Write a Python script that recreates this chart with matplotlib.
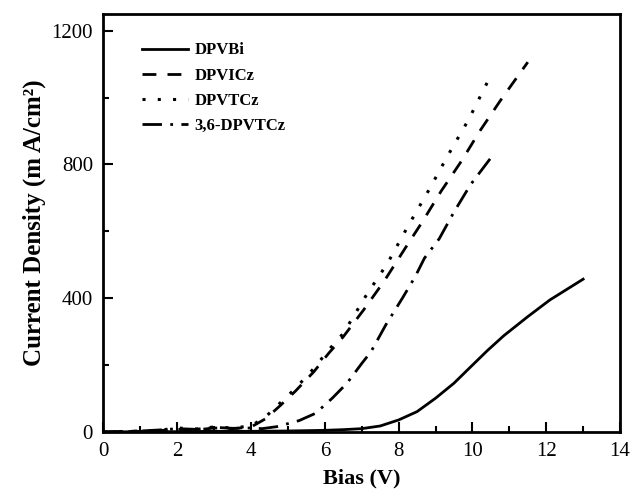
import numpy as np
import matplotlib.pyplot as plt
from matplotlib.ticker import MultipleLocator

# DPVBi (solid)
v_dpvbi = [0, 1, 2, 3, 4, 5, 6, 6.5, 7, 7.5, 8, 8.5, 9, 9.5, 10, 10.4, 10.85, 11.5, 12.1, 13]
j_dpvbi = [0, 1, 1, 2, 2, 3, 5, 7, 10, 18, 36, 61, 101, 146, 200, 243, 288, 345, 395, 457]

# DPVICz (dashed)
v_dpvicz = [0, 1, 1.5, 2, 2.5, 3, 3.5, 4, 4.4, 4.8, 5.2, 5.7, 6.1, 6.5, 7.05, 7.6, 8.15,
            8.65, 9.15, 9.7, 10.2, 10.75, 11.5]
j_dpvicz = [0, 2, 4, 8, 6, 12, 10, 15, 40, 80, 122, 180, 235, 285, 365, 450, 545,
            630, 720, 810, 900, 990, 1106]

# DPVTCz (dotted)
v_dpvtcz = [0, 1, 1.5, 2, 2.5, 3, 3.5, 4, 4.4, 4.8, 5.2, 5.7, 6.1, 6.5, 6.8, 7.1, 7.7,
            8.25, 8.8, 9.35, 9.9, 10.4]
j_dpvtcz = [0, 3, 5, 12, 9, 15, 12, 18, 46, 88, 130, 190, 245, 295, 350, 405, 505,
            615, 720, 830, 935, 1045]

# 3,6-DPVTCz (dash-dot)
v_36 = [0, 1, 1.5, 2, 2.5, 3, 3.5, 4, 4.3, 4.7, 5.3, 5.75, 6.2, 6.6, 7.0, 7.25, 7.65,
        8.1, 8.45, 8.7, 9.1, 9.5, 9.95, 10.5]
j_36 = [0, 3, 6, 10, 8, 14, 11, 12, 10, 16, 34, 56, 101, 146, 205, 240, 320,
        400, 465, 520, 578, 658, 740, 820]

plt.rcParams['font.family'] = ['Liberation Serif', 'DejaVu Serif']

fig = plt.figure(figsize=(6.33, 4.97), dpi=100)
ax = fig.add_axes([0.1635, 0.1308, 0.816, 0.841])

ax.plot(v_dpvbi, j_dpvbi, color='black', lw=2.0, linestyle='-', label='DPVBi')
ax.plot(v_dpvicz, j_dpvicz, color='black', lw=2.0, linestyle=(0, (5, 4)), label='DPVICz')
ax.plot(v_dpvtcz, j_dpvtcz, color='black', lw=2.2, linestyle=(0, (1, 4)), label='DPVTCz')
ax.plot(v_36, j_36, color='black', lw=2.0, linestyle=(0, (7, 3, 1, 3)), label='3,6-DPVTCz')

ax.set_xlim(0, 14)
ax.set_ylim(0, 1250)
ax.xaxis.set_major_locator(MultipleLocator(2))
ax.xaxis.set_minor_locator(MultipleLocator(1))
ax.yaxis.set_major_locator(MultipleLocator(400))
ax.yaxis.set_minor_locator(MultipleLocator(200))
ax.tick_params(which='both', direction='in', labelsize=15, width=1.5, pad=7.5)
ax.tick_params(which='major', length=7)
ax.tick_params(which='minor', length=4)
for s in ax.spines.values():
    s.set_linewidth(2)

ax.set_xlabel('Bias (V)', fontsize=16, fontweight='bold', labelpad=5)
ax.set_ylabel('Current Density (m A/cm²)', fontsize=18, fontweight='bold', labelpad=4)

ax.legend(loc='upper left', frameon=False, prop={'weight': 'bold', 'size': 12},
          handlelength=2.8, handletextpad=0.35, labelspacing=0.55,
          bbox_to_anchor=(0.045, 0.968))

fig.savefig('out.png', dpi=100)
